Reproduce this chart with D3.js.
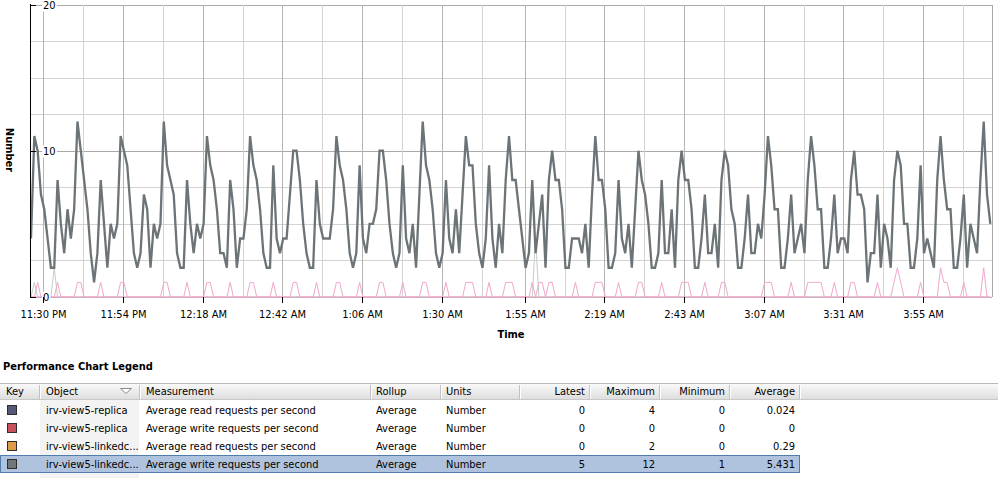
<!DOCTYPE html>
<html>
<head>
<meta charset="utf-8">
<script src="https://cdn.jsdelivr.net/npm/d3@7"></script>
<style>
  body { margin: 0; background: #fff; }
  svg { display: block; font-family: Tahoma, 'DejaVu Sans Condensed', 'DejaVu Sans', sans-serif; font-size: 11px; }
</style>
</head>
<body>
<div id="chart"></div>
<script>
// x ticks, minutes after 11:30 PM
const tickLabels = ['11:30 PM', '11:54 PM', '12:18 AM', '12:42 AM', '1:06 AM', '1:30 AM',
  '1:55 AM', '2:19 AM', '2:43 AM', '3:07 AM', '3:31 AM', '3:55 AM']
const tickMinutes = [0, 24, 48, 72, 96, 120, 145, 169, 193, 217, 241, 265]
const yTicks = [0, 10, 20]

// one sample per minute, first sample ~3.7 min before 11:30 PM
const firstSample = -3.7

// irv-view5-linkedc... average write requests per second (selected row)
const writeLinked = [
  4, 11, 10, 7, 6, 4, 2, 2, 8, 5, 3, 6, 4, 6,
  12, 10, 8, 6, 3, 1, 3, 8, 5, 2, 5, 4, 5,
  11, 10, 9, 6, 3, 2, 3, 7, 6, 2, 5, 4, 5,
  12, 9, 8, 7, 3, 2, 2, 8, 5, 3, 5, 4, 5,
  11, 9, 8, 6, 3, 3, 2, 8, 6, 2, 4, 4, 6,
  11, 9, 8, 6, 3, 2, 2, 9, 4, 3, 4, 4, 7,
  10, 10, 8, 5, 3, 2, 2, 8, 5, 4, 4, 4, 6,
  11, 9, 8, 6, 3, 2, 3, 9, 4, 3, 5, 5, 6,
  10, 10, 8, 5, 3, 2, 3, 9, 4, 3, 5, 2, 7,
  12, 9, 8, 6, 3, 2, 3, 8, 4, 3, 6, 3, 7,
  11, 9, 9, 5, 3, 2, 4, 9, 4, 2, 5, 3, 8,
  11, 8, 8, 6, 4, 2, 3, 8, 3, 5, 7, 2, 8,
  10, 8, 8, 6, 2, 2, 4, 4, 4, 3, 5, 2, 7,
  11, 8, 8, 6, 2, 2, 3, 8, 4, 3, 5, 2, 6,
  10, 8, 7, 5, 2, 2, 3, 8, 3, 3, 6, 2, 8,
  10, 8, 8, 6, 2, 2, 4, 7, 3, 3, 5, 2, 8,
  10, 9, 6, 5, 2, 2, 4, 7, 3, 3, 5, 4, 7,
  11, 9, 6, 6, 2, 2, 4, 7, 3, 4, 5, 3, 8,
  11, 9, 6, 6, 2, 2, 4, 7, 3, 4, 4, 3, 8,
  10, 7, 7, 6, 1, 3, 3, 7, 2, 5, 4, 2, 8,
  10, 9, 5, 5, 2, 2, 4, 9, 3, 4, 3, 2, 8,
  11, 8, 6, 6, 2, 2, 4, 7, 2, 5, 4, 3, 8,
  12, 7, 5
]

// irv-view5-linkedc... average read requests per second
const readLinked = [
  0, 0, 1, 0, 0, 0, 0, 0, 1, 0, 0, 0, 0, 0,
  1, 1, 0, 0, 0, 0, 0, 1, 0, 0, 0, 0, 0,
  1, 1, 0, 0, 0, 0, 0, 0, 0, 0, 0, 0, 0,
  1, 1, 0, 0, 0, 0, 0, 1, 0, 0, 0, 0, 0,
  1, 1, 0, 0, 0, 0, 0, 1, 0, 0, 0, 0, 0,
  1, 1, 0, 0, 0, 0, 0, 1, 0, 0, 0, 0, 0,
  1, 1, 0, 0, 0, 0, 0, 1, 0, 0, 0, 0, 0,
  1, 1, 0, 0, 0, 0, 0, 1, 0, 0, 0, 0, 0,
  1, 1, 0, 0, 0, 0, 0, 1, 0, 0, 0, 0, 0,
  1, 1, 0, 0, 0, 0, 0, 1, 0, 0, 0, 0, 0,
  1, 1, 1, 0, 0, 0, 0, 1, 0, 0, 0, 0, 1,
  1, 1, 0, 0, 0, 0, 0, 1, 0, 1, 1, 0, 1,
  1, 0, 0, 0, 0, 0, 0, 1, 0, 0, 0, 0, 0,
  1, 1, 1, 0, 0, 0, 0, 1, 0, 0, 0, 0, 0,
  1, 1, 0, 0, 0, 0, 0, 1, 0, 0, 0, 0, 0,
  1, 1, 1, 0, 0, 0, 0, 1, 0, 0, 0, 0, 1,
  1, 0, 0, 0, 0, 0, 0, 0, 0, 0, 0, 0, 1,
  1, 1, 0, 0, 0, 0, 0, 1, 0, 0, 0, 0, 1,
  1, 1, 1, 1, 0, 0, 0, 1, 0, 0, 0, 0, 1,
  1, 0, 0, 0, 0, 0, 0, 1, 0, 0, 0, 0, 1,
  2, 1, 0, 0, 0, 0, 0, 1, 0, 0, 0, 0, 0,
  2, 1, 1, 0, 0, 0, 0, 1, 0, 0, 0, 0, 0,
  2, 0, 0
]

// irv-view5-replica average read requests per second
const readReplica = [
  0, 1, 0, 0, 0, 0, 0, 2, 0, 0, 0, 0, 0, 0,
  0, 0, 0, 0, 0, 0, 0, 0, 0, 0, 0, 0, 0,
  0, 0, 0, 0, 0, 0, 0, 0, 0, 0, 0, 0, 0,
  0, 0, 0, 0, 0, 0, 0, 0, 0, 0, 0, 0, 0,
  0, 0, 0, 0, 0, 0, 0, 0, 0, 0, 0, 0, 0,
  0, 0, 0, 0, 0, 0, 0, 0, 0, 0, 0, 0, 0,
  0, 0, 0, 0, 0, 0, 0, 0, 0, 0, 0, 0, 0,
  0, 0, 0, 0, 0, 0, 0, 0, 0, 0, 0, 0, 0,
  0, 0, 0, 0, 0, 0, 0, 0, 0, 0, 0, 0, 0,
  0, 0, 0, 0, 0, 0, 0, 0, 0, 0, 0, 0, 0,
  0, 0, 0, 0, 0, 0, 0, 0, 0, 0, 0, 0, 0,
  0, 0, 0, 0, 0, 0, 0, 0, 4, 0, 0, 0, 0,
  0, 0, 0, 0, 0, 0, 0, 0, 0, 0, 0, 0, 0,
  0, 0, 0, 0, 0, 0, 0, 0, 0, 0, 0, 0, 0,
  0, 0, 0, 0, 0, 0, 0, 0, 0, 0, 0, 0, 0,
  0, 0, 0, 0, 0, 0, 0, 0, 0, 0, 0, 0, 0,
  0, 0, 0, 0, 0, 0, 0, 0, 0, 0, 0, 0, 0,
  0, 0, 0, 0, 0, 0, 0, 0, 0, 0, 0, 0, 0,
  0, 0, 0, 0, 0, 0, 0, 0, 0, 0, 0, 0, 0,
  0, 0, 0, 0, 0, 0, 0, 0, 0, 0, 0, 0, 0,
  0, 0, 0, 0, 0, 0, 0, 0, 0, 0, 0, 0, 0,
  0, 0, 0, 0, 0, 0, 0, 0, 0, 0, 0, 0, 0,
  0, 0, 0
]

// irv-view5-replica average write requests per second (flat zero)
const writeReplica = writeLinked.map(() => 0)

// legend table
const legendObjects = ['irv-view5-replica', 'irv-view5-replica', 'irv-view5-linkedc...', 'irv-view5-linkedc...']
const legendMeasurements = ['Average read requests per second', 'Average write requests per second',
  'Average read requests per second', 'Average write requests per second']
const legendRollups = ['Average', 'Average', 'Average', 'Average']
const legendUnits = ['Number', 'Number', 'Number', 'Number']
const legendLatest = ['0', '0', '0', '5']
const legendMaximum = ['4', '0', '2', '12']
const legendMinimum = ['0', '0', '0', '1']
const legendAverage = ['0.024', '0', '0.29', '5.431']
const legendKeyColors = ['#535977', '#c9505d', '#e09a4c', '#727779']
const selectedRow = 3

const width = 998
const height = 478
const plot = { left: 31, right: 992, top: 4.5, bottom: 297 }

const svg = d3.select('#chart').append('svg')
  .attr('width', width)
  .attr('height', height)

// scales
const x = d3.scaleLinear()
  .domain([firstSample, firstSample + 289.5])
  .range([plot.left, plot.right])
const y = d3.scaleLinear().domain([0, 20]).range([plot.bottom, plot.top])

// gridlines
const tickStep = (tickMinutes[tickMinutes.length - 1] - tickMinutes[0]) / (tickMinutes.length - 1)
const minorX = tickMinutes.map(t => t + tickStep / 2).filter(t => x(t) < plot.right - 2)
const grid = svg.append('g').attr('shape-rendering', 'crispEdges')

grid.selectAll('line.hy')
  .data(d3.range(0, 20.01, 2.5))
  .enter()
  .append('line')
  .attr('x1', plot.left)
  .attr('x2', plot.right)
  .attr('y1', d => Math.round(y(d)) + 0.5)
  .attr('y2', d => Math.round(y(d)) + 0.5)
  .attr('stroke', d => (d % 10 === 0 ? '#a9a9a9' : '#d3d3d3'))

grid.selectAll('line.vx')
  .data(tickMinutes.map(t => ({ t, major: true })).concat(minorX.map(t => ({ t, major: false }))))
  .enter()
  .append('line')
  .attr('x1', d => Math.round(x(d.t)) + 0.5)
  .attr('x2', d => Math.round(x(d.t)) + 0.5)
  .attr('y1', plot.top)
  .attr('y2', plot.bottom)
  .attr('stroke', d => (d.major ? '#b4b4b4' : '#d3d3d3'))

// right border
grid.append('line')
  .attr('x1', plot.right + 0.5)
  .attr('x2', plot.right + 0.5)
  .attr('y1', plot.top)
  .attr('y2', plot.bottom)
  .attr('stroke', '#a9a9a9')

// series
const line = d3.line()
  .x((d, i) => x(firstSample + i))
  .y(d => y(d))

const series = [
  { values: readReplica, color: '#c4cec6', width: 1 },
  { values: writeReplica, color: '#eaa3c3', width: 1 },
  { values: readLinked, color: '#f0a7cd', width: 1 },
  { values: writeLinked, color: '#6c7478', width: 2.3 }
]

svg.append('g')
  .selectAll('path')
  .data(series)
  .enter()
  .append('path')
  .attr('fill', 'none')
  .attr('stroke', d => d.color)
  .attr('stroke-width', d => d.width)
  .attr('stroke-linejoin', 'miter')
  .attr('d', d => line(d.values))

// y-axis
svg.append('line')
  .attr('x1', plot.left - 0.5)
  .attr('x2', plot.left - 0.5)
  .attr('y1', plot.top - 0.5)
  .attr('y2', plot.bottom + 0.5)
  .attr('stroke', '#000')
  .attr('shape-rendering', 'crispEdges')

const yTickG = svg.append('g')
  .selectAll('g')
  .data(yTicks)
  .enter()
  .append('g')
  .attr('transform', d => `translate(0, ${Math.round(y(d)) + 0.5})`)

yTickG.append('line')
  .attr('x1', plot.left - 1)
  .attr('x2', plot.left + 5)
  .attr('stroke', '#000')
  .attr('shape-rendering', 'crispEdges')

yTickG.append('rect')
  .attr('fill', '#fff')
  .attr('y', -6)
  .attr('height', 12)
  .attr('x', 42)
  .attr('width', d => String(d).length * 6.5 + 2)

yTickG.append('text')
  .attr('x', 43)
  .attr('dy', '0.35em')
  .attr('fill', '#000')
  .text(d => d)

// x-axis ticks and labels
const xTickG = svg.append('g')
  .selectAll('g')
  .data(tickMinutes)
  .enter()
  .append('g')
  .attr('transform', d => `translate(${Math.round(x(d)) + 0.5}, 0)`)

xTickG.append('line')
  .attr('y1', plot.bottom)
  .attr('y2', plot.bottom + 6)
  .attr('stroke', '#000')
  .attr('shape-rendering', 'crispEdges')

xTickG.append('text')
  .attr('y', 318)
  .attr('text-anchor', 'middle')
  .attr('fill', '#000')
  .text((d, i) => tickLabels[i])

// axis titles
svg.append('text')
  .attr('x', 511)
  .attr('y', 338)
  .attr('text-anchor', 'middle')
  .attr('font-weight', 'bold')
  .text('Time')

svg.append('text')
  .attr('transform', 'translate(6, 150) rotate(90)')
  .attr('text-anchor', 'middle')
  .attr('font-weight', 'bold')
  .text('Number')

// legend
svg.append('text')
  .attr('x', 3)
  .attr('y', 370)
  .attr('font-weight', 'bold')
  .text('Performance Chart Legend')

const defs = svg.append('defs')
const grad = defs.append('linearGradient')
  .attr('id', 'hdr')
  .attr('x1', 0).attr('x2', 0).attr('y1', 0).attr('y2', 1)
grad.append('stop').attr('offset', '0%').attr('stop-color', '#fbfbfb')
grad.append('stop').attr('offset', '100%').attr('stop-color', '#dedede')

const columns = [
  { name: 'Key', x0: 0, x1: 39, align: 'start', tx: 6 },
  { name: 'Object', x0: 39, x1: 139, align: 'start', tx: 46, values: legendObjects },
  { name: 'Measurement', x0: 139, x1: 370, align: 'start', tx: 146, values: legendMeasurements },
  { name: 'Rollup', x0: 370, x1: 440, align: 'start', tx: 376, values: legendRollups },
  { name: 'Units', x0: 440, x1: 519, align: 'start', tx: 446, values: legendUnits },
  { name: 'Latest', x0: 519, x1: 589, align: 'end', tx: 585, values: legendLatest },
  { name: 'Maximum', x0: 589, x1: 659, align: 'end', tx: 655, values: legendMaximum },
  { name: 'Minimum', x0: 659, x1: 729, align: 'end', tx: 725, values: legendMinimum },
  { name: 'Average', x0: 729, x1: 799, align: 'end', tx: 795, values: legendAverage },
  { name: '', x0: 799, x1: 998, align: 'start', tx: 805 }
]

const headerTop = 383
const headerBottom = 399
const rowTop = 401
const rowH = 18

// sorted column background
svg.append('rect')
  .attr('x', 40)
  .attr('y', headerBottom + 1)
  .attr('width', 99)
  .attr('height', height - headerBottom)
  .attr('fill', '#f3f3f3')

// header
const header = svg.append('g').attr('shape-rendering', 'crispEdges')
header.append('rect')
  .attr('x', 0)
  .attr('y', headerTop)
  .attr('width', width)
  .attr('height', headerBottom - headerTop)
  .attr('fill', 'url(#hdr)')
header.append('line')
  .attr('x1', 0).attr('x2', width)
  .attr('y1', headerTop + 0.5).attr('y2', headerTop + 0.5)
  .attr('stroke', '#b9b9b9')
header.append('line')
  .attr('x1', 0).attr('x2', width)
  .attr('y1', headerBottom + 0.5).attr('y2', headerBottom + 0.5)
  .attr('stroke', '#c8c8c8')

header.selectAll('line.sep')
  .data(columns.slice(0, -1))
  .enter()
  .append('line')
  .attr('x1', d => d.x1 + 0.5)
  .attr('x2', d => d.x1 + 0.5)
  .attr('y1', headerTop + 2)
  .attr('y2', headerBottom)
  .attr('stroke', '#c2c2c2')
header.selectAll('line.sep2')
  .data(columns.slice(0, -1))
  .enter()
  .append('line')
  .attr('x1', d => d.x1 + 1.5)
  .attr('x2', d => d.x1 + 1.5)
  .attr('y1', headerTop + 2)
  .attr('y2', headerBottom)
  .attr('stroke', '#ffffff')

header.selectAll('text')
  .data(columns)
  .enter()
  .append('text')
  .attr('x', d => d.tx)
  .attr('y', headerTop + 12)
  .attr('text-anchor', d => d.align)
  .attr('fill', '#000')
  .text(d => d.name)

// sort arrow on Object
header.append('path')
  .attr('d', 'M120.5,388.5 L131.5,388.5 L126,393.5 Z')
  .attr('fill', '#fff')
  .attr('stroke', '#8a8a8a')
  .attr('shape-rendering', 'auto')

// selected row
svg.append('rect')
  .attr('x', 0.5)
  .attr('y', rowTop + selectedRow * rowH + 0.5)
  .attr('width', 799)
  .attr('height', rowH - 1)
  .attr('fill', '#b0c3de')
  .attr('stroke', '#4f7eac')
  .attr('shape-rendering', 'crispEdges')

// rows
const rows = svg.append('g')
  .selectAll('g')
  .data(legendObjects)
  .enter()
  .append('g')
  .attr('transform', (d, i) => `translate(0, ${rowTop + i * rowH})`)

rows.append('rect')
  .attr('x', 7.5)
  .attr('y', 4.5)
  .attr('width', 9)
  .attr('height', 9)
  .attr('fill', (d, i) => legendKeyColors[i])
  .attr('stroke', '#2e2e2e')
  .attr('shape-rendering', 'crispEdges')

columns.filter(c => c.values).forEach(c => {
  rows.append('text')
    .attr('x', c.tx)
    .attr('y', 13)
    .attr('text-anchor', c.align)
    .attr('fill', '#000')
    .text((d, i) => c.values[i])
})
</script>
</body>
</html>
